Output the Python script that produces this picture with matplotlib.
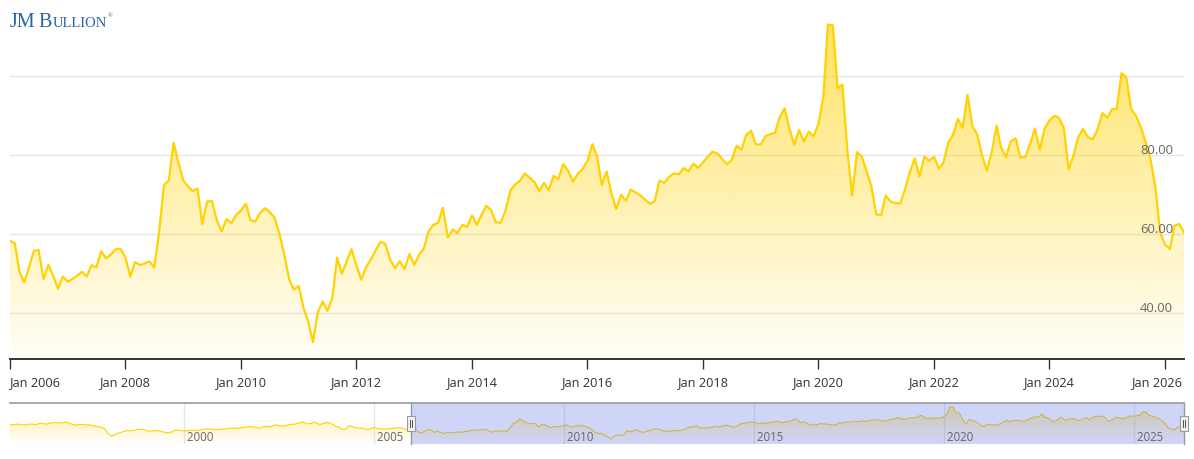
import numpy as np
import pandas as pd
import matplotlib
matplotlib.use("Agg")
import matplotlib.pyplot as plt
import matplotlib.dates as mdates
import matplotlib.transforms as mtransforms
from matplotlib.colors import to_rgba
from matplotlib.patches import Rectangle
from matplotlib.lines import Line2D

plt.rcParams['font.family'] = ['Open Sans', 'DejaVu Sans']

# monthly gold/silver ratio, Jan 2006 .. May 2026
ratio = [
    58.3, 57.7, 50.6, 47.8, 51.6, 55.8, 56.0, 48.7, 52.3, 49.5, 46.2, 49.3,   # 2006
    48.0, 48.7, 49.5, 50.5, 49.3, 52.2, 51.6, 55.7, 53.9, 54.9, 56.2, 56.3,   # 2007
    54.1, 49.3, 53.0, 52.2, 52.6, 53.1, 51.6, 60.5, 72.5, 73.6, 83.2, 78.2,   # 2008
    73.6, 72.1, 70.9, 71.6, 62.6, 68.3, 68.4, 63.5, 60.7, 63.9, 62.8, 64.9,   # 2009
    66.0, 67.8, 63.6, 63.2, 65.4, 66.6, 65.7, 64.2, 60.1, 55.0, 48.7, 46.0,   # 2010
    46.9, 41.3, 38.1, 32.7, 40.1, 43.0, 40.6, 43.8, 54.1, 50.0, 53.2, 56.2,   # 2011
    52.1, 48.5, 51.6, 53.6, 55.9, 58.1, 57.6, 53.6, 51.4, 53.2, 51.2, 55.0,   # 2012
    52.3, 54.9, 56.3, 60.7, 62.4, 62.9, 66.7, 59.2, 61.2, 60.3, 62.4, 61.9,   # 2013
    64.8, 62.4, 64.8, 67.2, 66.2, 63.0, 62.9, 66.0, 71.1, 72.6, 73.6, 75.4,   # 2014
    74.3, 73.2, 70.9, 73.0, 71.1, 74.8, 74.0, 77.8, 76.1, 73.3, 75.3, 76.5,   # 2015
    78.6, 82.8, 79.9, 72.5, 75.9, 70.4, 66.4, 70.0, 68.5, 71.3, 70.6, 69.8,   # 2016
    68.7, 67.7, 68.4, 73.6, 73.0, 74.6, 75.4, 75.2, 76.8, 75.9, 77.9, 76.8,   # 2017
    78.2, 79.7, 80.9, 80.5, 79.1, 77.7, 78.8, 82.4, 81.4, 85.1, 86.2, 82.8,   # 2018
    82.7, 84.9, 85.3, 85.7, 89.6, 91.9, 86.8, 82.7, 86.4, 83.5, 86.0, 84.8,   # 2019
    87.9, 94.7, 113.1, 112.9, 97.0, 97.9, 81.6, 69.8, 80.8, 79.7, 75.9, 72.1,  # 2020
    65.0, 64.9, 69.8, 68.3, 67.9, 67.8, 71.3, 75.7, 79.2, 74.6, 79.7, 78.6,   # 2021
    79.6, 76.6, 78.1, 83.2, 85.2, 89.2, 86.9, 95.3, 87.3, 85.3, 79.9, 76.1,   # 2022
    80.8, 87.5, 82.0, 79.5, 83.5, 84.3, 79.5, 79.5, 82.9, 86.8, 81.4, 86.7,   # 2023
    88.8, 90.0, 89.5, 86.9, 76.5, 79.9, 84.6, 86.7, 84.6, 84.0, 86.7, 90.7,   # 2024
    89.5, 91.7, 91.7, 100.8, 99.7, 91.7, 90.0, 87.1, 83.3, 79.1, 71.9, 60.5,  # 2025
    57.4, 56.3, 62.2, 62.6, 60.5,                                             # 2026
]
dates = pd.date_range('2006-01-01', periods=len(ratio), freq='MS')

# earlier history, only visible in the navigator (Jun 1995 .. Dec 2005)
early_ratio = [
    69, 68, 70, 69, 68, 68, 70,                                   # 1995
    70, 69, 71, 72, 70, 71, 73, 74, 73, 73, 74, 75,               # 1996
    71, 69, 67, 69, 69, 68, 68, 67, 65, 63, 62, 57,               # 1997
    46, 39, 43, 47, 49, 52, 54, 53, 54, 56, 57, 57,               # 1998
    54, 52, 53, 54, 53, 51, 49, 48, 50, 54, 55, 54,               # 1999
    53, 53, 55, 54, 54, 55, 57, 58, 58, 57, 56, 57,               # 2000
    57, 58, 59, 60, 60, 59, 61, 62, 63, 64, 62, 61,               # 2001
    60, 63, 64, 63, 66, 68, 66, 65, 66, 68, 69, 70,               # 2002
    72, 75, 74, 71, 71, 75, 72, 69, 72, 74, 73, 69,               # 2003
    63, 63, 56, 58, 65, 65, 61, 60, 60, 58, 56, 59,               # 2004
    62, 59, 58, 58, 57, 59, 59, 61, 61, 60, 57, 55,               # 2005
]
early_dates = pd.date_range('1995-06-01', periods=len(early_ratio), freq='MS')

tick_years = list(range(2006, 2027, 2))
label_values = [40, 60, 80]
grid_values = [40, 60, 80, 100]
nav_years = [2000, 2005, 2010, 2015, 2020, 2025]

GOLD = '#FFD200'
W, H = 1194, 460


def px_box(left, top, right, bottom):
    return [left / W, (H - bottom) / H, (right - left) / W, (bottom - top) / H]


def gradient_area(ax, x, y, ylo, yhi, a_top, a_bot, z=1):
    poly = ax.fill_between(x, y, ylo, facecolor='none', edgecolor='none')
    n = 256
    img = np.zeros((n, 1, 4))
    img[:, 0, :3] = to_rgba(GOLD)[:3]
    img[:, 0, 3] = np.linspace(a_top, a_bot, n)
    im = ax.imshow(img, aspect='auto', origin='upper', zorder=z,
                   extent=[x[0], x[-1], ylo, yhi], interpolation='bilinear')
    im.set_clip_path(poly.get_paths()[0], transform=ax.transData)


fig = plt.figure(figsize=(W / 100, H / 100), dpi=100)

# ---- main chart
ax = fig.add_axes(px_box(10, 20, 1184, 360))
x = mdates.date2num(dates)
y_lo, y_hi = 28.43, 114.5
for g in grid_values:
    ax.axhline(g, color='#e6e6e6', lw=1, zorder=0)
gradient_area(ax, x, ratio, y_lo, y_hi, 0.62, 0.03)
ax.plot(x, ratio, color=GOLD, lw=1.6, zorder=3, solid_joinstyle='round')
ax.set_xlim(x[0], x[-1])
ax.set_ylim(y_lo, y_hi)

for s in ['left', 'right', 'top']:
    ax.spines[s].set_visible(False)
ax.spines['bottom'].set_color('#333333')
ax.spines['bottom'].set_linewidth(1.4)
ax.set_yticks([])
ticks = [mdates.date2num(pd.Timestamp(f'{yr}-01-01')) for yr in tick_years]
ax.set_xticks(ticks)
ax.set_xticklabels([f'Jan {yr}' for yr in tick_years])
ax.tick_params(axis='x', length=7.5, width=1, color='#333333', pad=4,
               labelsize=9.2, labelcolor='#333333')
labels = ax.get_xticklabels()
labels[0].set_ha('left')
labels[-1].set_ha('right')
labels[-1].set_transform(labels[-1].get_transform() +
                         mtransforms.ScaledTranslation(0.18, 0, fig.dpi_scale_trans))

ytrans = mtransforms.blended_transform_factory(ax.transAxes, ax.transData)
for v in label_values:
    ax.text(0.9906, v + 0.6, f'{v:.2f}', transform=ytrans, ha='right',
            va='baseline', color='#666666', fontsize=9.4, zorder=4)

# ---- navigator
nav = fig.add_axes(px_box(10, 404, 1184, 445))
nx = mdates.date2num(list(early_dates) + list(dates))
ny = early_ratio + ratio
n_lo, n_hi = 20, 123
for yr in nav_years:
    gx = mdates.date2num(pd.Timestamp(f'{yr}-01-01'))
    nav.axvline(gx, color='#e6e6e6', lw=1, zorder=0)
    nav.text(gx, 0.18, f' {yr}', transform=mtransforms.blended_transform_factory(
        nav.transData, nav.transAxes), ha='left', va='center',
        color='#666666', fontsize=8.3, zorder=5)
gradient_area(nav, nx, ny, n_lo, n_hi, 0.45, 0.0)
nav.plot(nx, ny, color=GOLD, lw=0.8, zorder=3)
nav.set_xlim(nx[0], nx[-1])
nav.set_ylim(n_lo, n_hi)
nav.axis('off')

sel_lo = mdates.date2num(dates[0])
sel_hi = mdates.date2num(dates[-1])
nav.add_patch(Rectangle((sel_lo, n_lo), sel_hi - sel_lo, n_hi - n_lo,
                        facecolor='#6276ee', alpha=0.3, edgecolor='none', zorder=4))

# outline and handles in pixel coordinates
fig.add_artist(Line2D([10 / W, 1184 / W], [(H - 404) / H] * 2, color='#999999', lw=1.2))
for hx in [411, 1184]:
    fig.add_artist(Line2D([hx / W] * 2, [(H - 404) / H, (H - 445) / H], color='#999999', lw=1))
    fig.add_artist(Rectangle(((hx - 4) / W, (H - 432) / H), 8 / W, 15 / H,
                             transform=fig.transFigure, facecolor='#f2f2f2',
                             edgecolor='#999999', lw=0.8, zorder=6))
    for dx in (-1.2, 1.2):
        fig.add_artist(Line2D([(hx + dx) / W] * 2, [(H - 428) / H, (H - 421) / H],
                              color='#333333', lw=0.6, zorder=7))

# ---- logo
logo = dict(family=['Liberation Serif', 'DejaVu Serif'], color='#2a64a8')
fig.text(10 / W, (H - 27) / H, 'JM', fontsize=14.5, **logo)
fig.text(38 / W, (H - 27) / H, 'B', fontsize=14.5, **logo)
fig.text(52.5 / W, (H - 27) / H, 'ULLION', fontsize=10.5, **logo)
fig.text(108 / W, (H - 17) / H, '\u00ae', fontsize=4.5, **logo)

plt.savefig('out.png', dpi=100)
